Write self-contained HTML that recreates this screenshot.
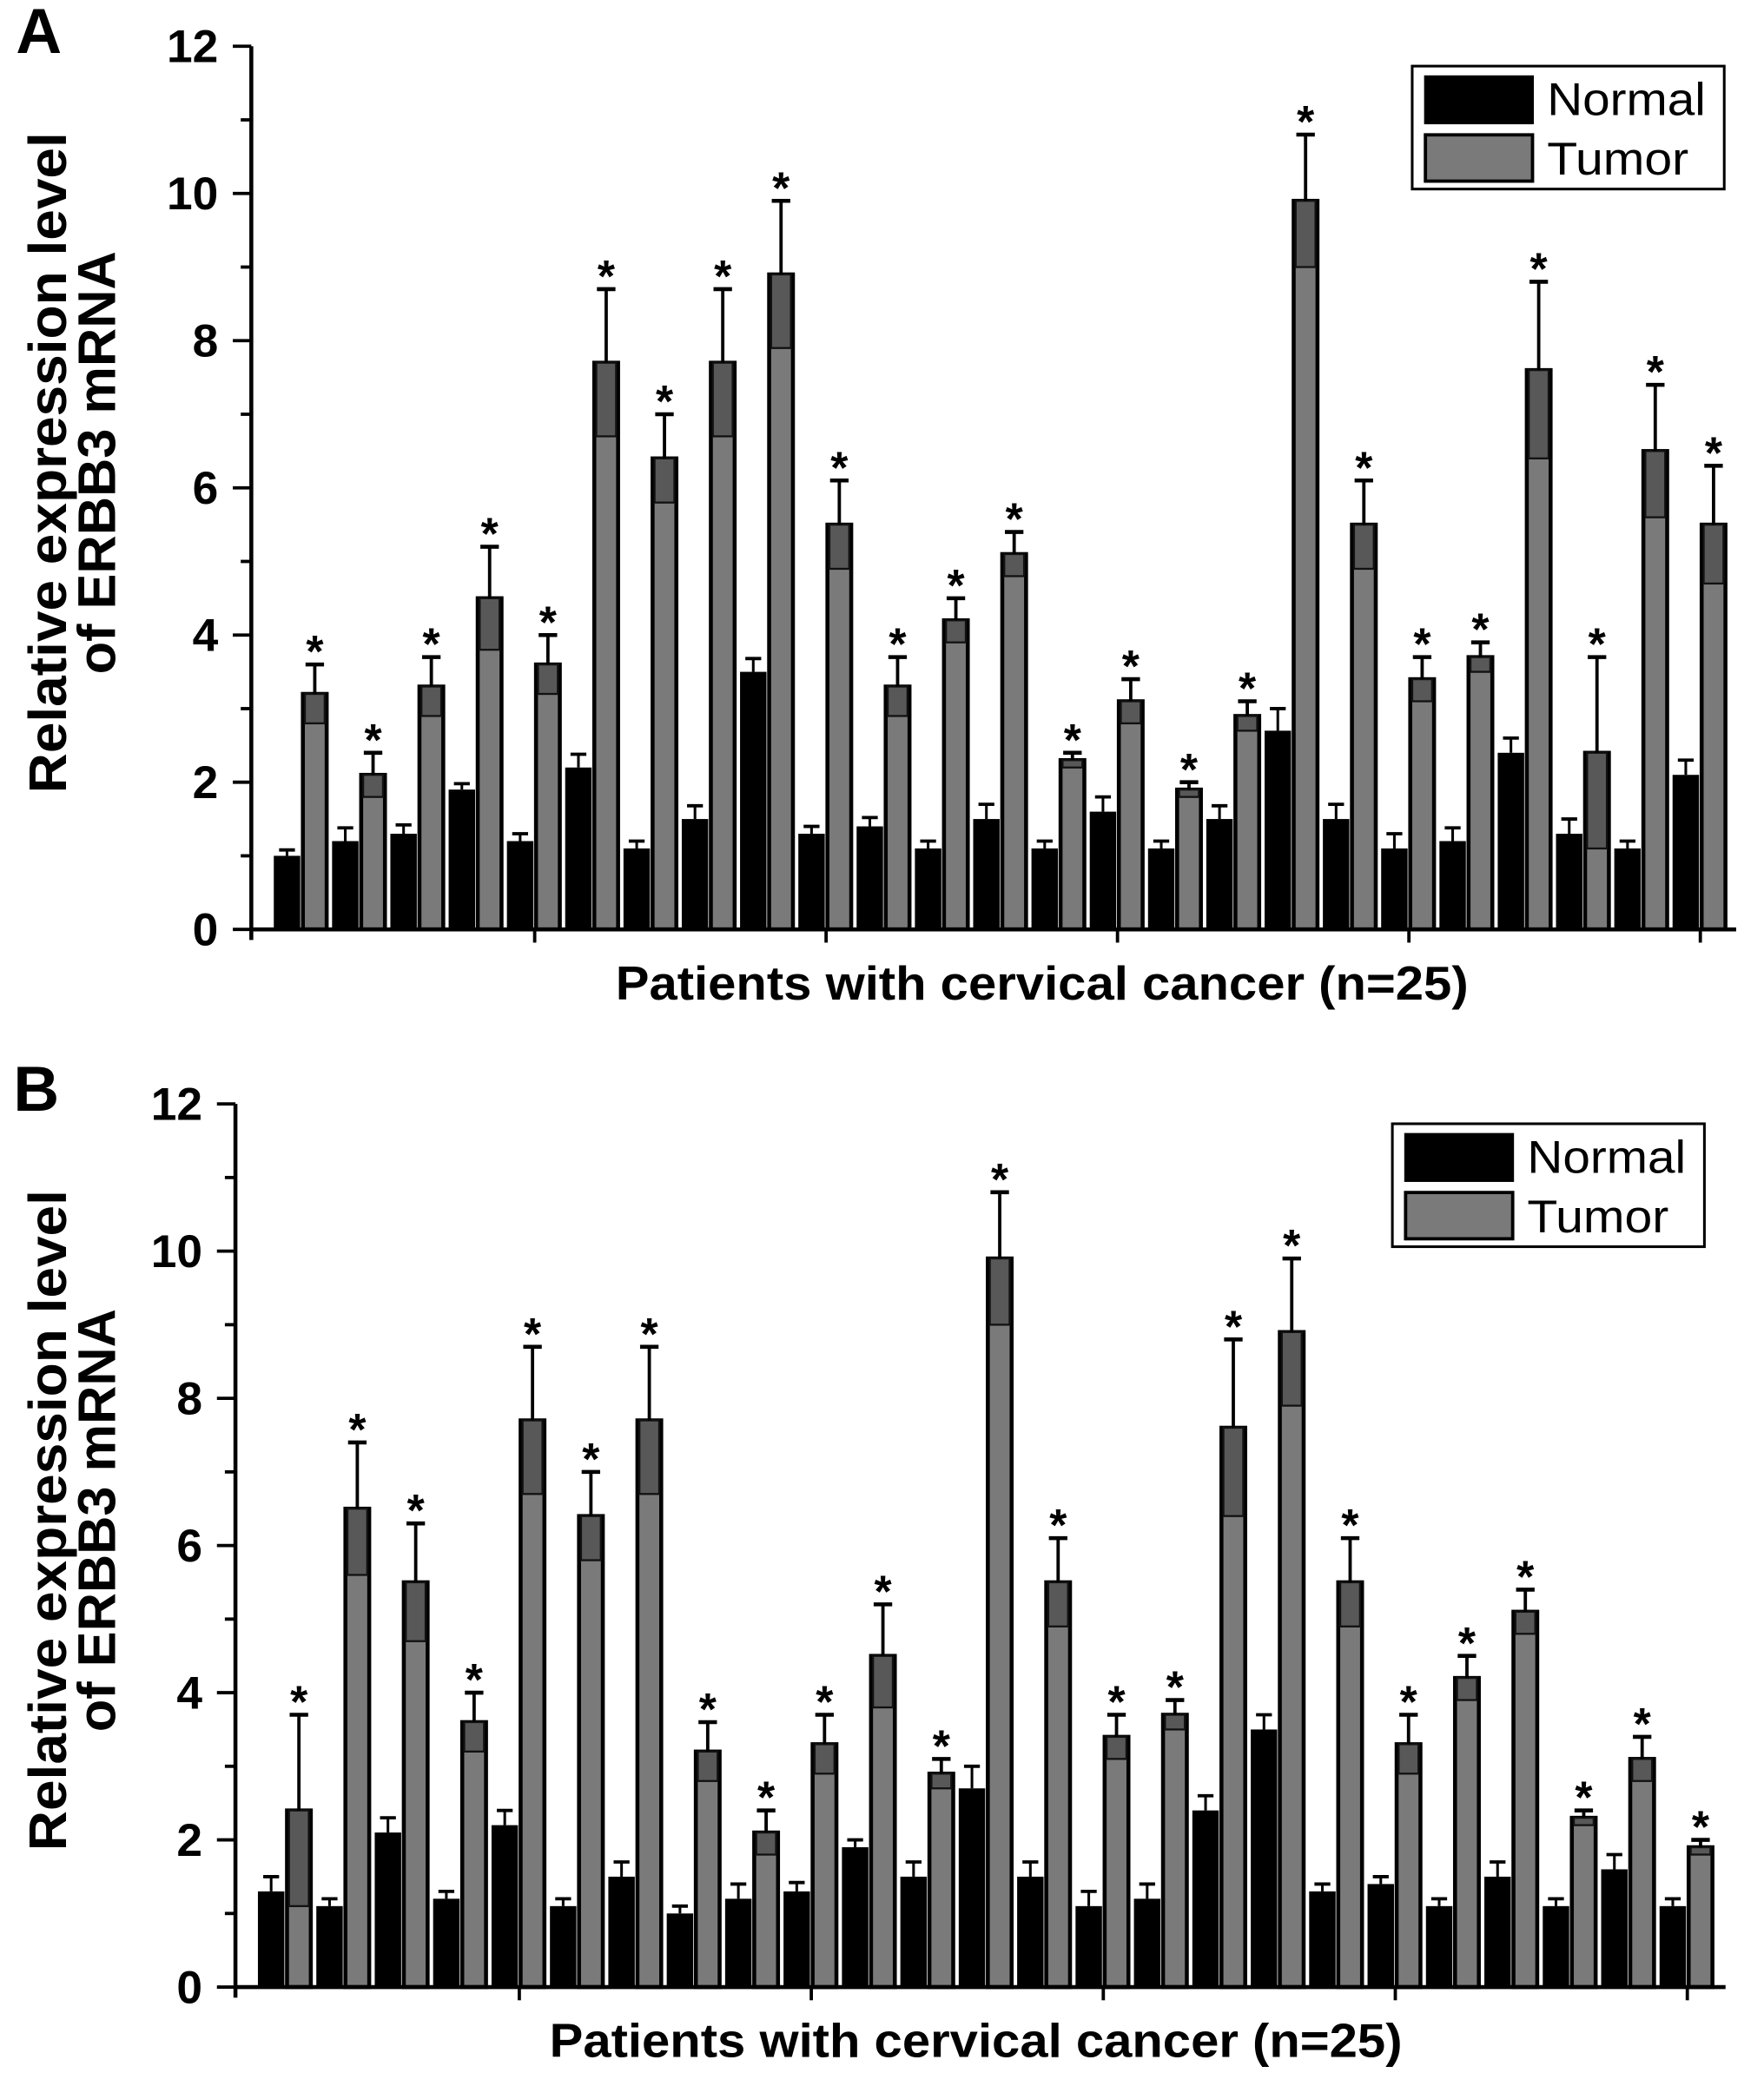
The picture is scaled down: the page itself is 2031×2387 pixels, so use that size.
<!DOCTYPE html>
<html><head><meta charset="utf-8"><style>
html,body{margin:0;padding:0;background:#fff;}
svg{display:block;}
text{font-family:"Liberation Sans",Arial,sans-serif;}
</style></head><body>
<svg id="fig" width="2031" height="2387" viewBox="0 0 1334 1568" xmlns="http://www.w3.org/2000/svg"></svg>
<script>
const normalA=[1.0,1.2,1.3,1.9,1.2,2.2,1.1,1.5,3.5,1.3,1.4,1.1,1.5,1.1,1.6,1.1,1.5,2.7,1.5,1.1,1.2,2.4,1.3,1.1,2.1];
const normalErrA=[0.08,0.18,0.12,0.08,0.1,0.18,0.1,0.18,0.18,0.1,0.12,0.1,0.2,0.1,0.2,0.1,0.18,0.3,0.2,0.2,0.18,0.2,0.2,0.1,0.2];
const tumorA=[3.2,2.1,3.3,4.5,3.6,7.7,6.4,7.7,8.9,5.5,3.3,4.2,5.1,2.3,3.1,1.9,2.9,9.9,5.5,3.4,3.7,7.6,2.4,6.5,5.5];
const tumorErrA=[0.4,0.3,0.4,0.7,0.4,1.0,0.6,1.0,1.0,0.6,0.4,0.3,0.3,0.1,0.3,0.1,0.2,0.9,0.6,0.3,0.2,1.2,1.3,0.9,0.8];
const normalB=[1.3,1.1,2.1,1.2,2.2,1.1,1.5,1.0,1.2,1.3,1.9,1.5,2.7,1.5,1.1,1.2,2.4,3.5,1.3,1.4,1.1,1.5,1.1,1.6,1.1];
const normalErrB=[0.2,0.1,0.2,0.1,0.2,0.1,0.2,0.1,0.2,0.12,0.1,0.2,0.3,0.2,0.2,0.2,0.2,0.2,0.1,0.1,0.1,0.2,0.1,0.2,0.1];
const tumorB=[2.4,6.5,5.5,3.6,7.7,6.4,7.7,3.2,2.1,3.3,4.5,2.9,9.9,5.5,3.4,3.7,7.6,8.9,5.5,3.3,4.2,5.1,2.3,3.1,1.9];
const tumorErrB=[1.3,0.9,0.8,0.4,1.0,0.6,1.0,0.4,0.3,0.4,0.7,0.2,0.9,0.6,0.3,0.2,1.2,1.0,0.6,0.4,0.3,0.3,0.1,0.3,0.1];
const yTicks=[0,2,4,6,8,10,12];

const svg=document.getElementById('fig');
const NS='http://www.w3.org/2000/svg';
function mk(tag,attrs,parent){const e=document.createElementNS(NS,tag);for(const k in attrs)e.setAttribute(k,attrs[k]);(parent||svg).appendChild(e);return e;}

function panel(p){
  const g=mk('g',{});
  
  
  const y=v=>p.y0-(v/12)*(p.y0-p.y12);
  const nx=i=>p.x1+i*p.pitch;
  const L=mk('text',{x:p.lx,y:p.ly,'font-size':48,'font-weight':'bold'},g);L.textContent=p.id;
  
  
  for(let i=0;i<p.n.length;i++){
    const x=nx(i);
    const nb=mk('rect',{x:x,y:y(p.n[i]),width:20,height:p.y0-y(p.n[i]),fill:'#000'},g);
    
    
    const ne=y(p.n[i]+p.ne[i]);
    mk('line',{x1:x+10,x2:x+10,y1:ne,y2:y(p.n[i]),stroke:'#000','stroke-width':2},g);
    mk('line',{x1:x+4,x2:x+16,y1:ne,y2:ne,stroke:'#000','stroke-width':2.5},g);
    const tx=x+22, tw=18;
    const tb=mk('rect',{x:tx,y:y(p.t[i]),width:tw,height:p.y0-y(p.t[i]),fill:'#7a7a7a',stroke:'#000','stroke-width':3},g);
    
    
    mk('rect',{x:tx+1.5,y:y(p.t[i]),width:tw-3,height:y(p.t[i]-p.te[i])-y(p.t[i]),fill:'#585858',stroke:'#111','stroke-width':1.5},g);
    const te=y(p.t[i]+p.te[i]);
    mk('line',{x1:tx+tw/2,x2:tx+tw/2,y1:te,y2:y(p.t[i]),stroke:'#000','stroke-width':2.5},g);
    mk('line',{x1:tx+2,x2:tx+tw-2,y1:te,y2:te,stroke:'#000','stroke-width':3},g);
    const s=mk('text',{x:tx+tw/2,y:te+2,'font-size':34,'font-weight':'bold','text-anchor':'middle'},g);s.textContent='*';
    
    
  }
  mk('line',{x1:p.ax,x2:p.ax,y1:p.y12,y2:p.y0+8,stroke:'#000','stroke-width':3},g);
  mk('line',{x1:p.ax,x2:p.xend,y1:p.y0,y2:p.y0,stroke:'#000','stroke-width':3},g);
  for(let v=0;v<=12;v++){
    mk('line',{x1:p.ax-(v%2===0?14:8),x2:p.ax,y1:y(v),y2:y(v),stroke:'#000','stroke-width':2.5},g);
  }
  yTicks.forEach(v=>{
    const t=mk('text',{x:p.ax-25,y:y(v)+12,'font-size':35,'font-weight':'bold','text-anchor':'end'},g);t.textContent=v;
    
    
  });
  for(let k=4;k<p.n.length;k+=5){
    const xx=nx(k)+21;
    mk('line',{x1:xx,x2:xx,y1:p.y0,y2:p.y0+10,stroke:'#000','stroke-width':2.5},g);
  }
  const yt=mk('text',{transform:`translate(${p.ytx},${p.ytc}) rotate(-90)`,'font-size':40,'font-weight':'bold','text-anchor':'middle'},g);
  
  
  const t1=mk('tspan',{x:0,y:0,textLength:500,lengthAdjust:'spacingAndGlyphs'},yt);t1.textContent='Relative expression level';
  const t2=mk('tspan',{x:0,y:37,textLength:320,lengthAdjust:'spacingAndGlyphs'},yt);t2.textContent='of ERBB3 mRNA';
  const xt=mk('text',{x:p.xtx,y:p.xty,'font-size':36,'font-weight':'bold','text-anchor':'middle',textLength:645,lengthAdjust:'spacingAndGlyphs'},g);
  xt.textContent='Patients with cervical cancer (n=25)';
  
  
  const lg=mk('g',{},g);
  
  
  mk('rect',{x:p.lgx,y:p.lgy,width:236,height:93,fill:'#fff',stroke:'#000','stroke-width':2},lg);
  mk('rect',{x:p.lgx+9,y:p.lgy+7,width:83,height:37,fill:'#000'},lg);
  mk('rect',{x:p.lgx+10,y:p.lgy+52,width:81,height:35,fill:'#7a7a7a',stroke:'#000','stroke-width':2.5},lg);
  const ln=mk('text',{x:p.lgx+102,y:p.lgy+37,'font-size':35,textLength:120,lengthAdjust:'spacingAndGlyphs'},lg);ln.textContent='Normal';
  
  
  const lt=mk('text',{x:p.lgx+102,y:p.lgy+82,'font-size':35,textLength:107,lengthAdjust:'spacingAndGlyphs'},lg);lt.textContent='Tumor';
  
  
}
panel({id:'A',n:normalA,ne:normalErrA,t:tumorA,te:tumorErrA,ax:190,y0:703,y12:35,x1:207,pitch:44.08,xend:1313,
  lx:12,ly:40,ytx:50,ytc:350,xtx:788,xty:756,lgx:1068,lgy:50});
panel({id:'B',n:normalB,ne:normalErrB,t:tumorB,te:tumorErrB,ax:178,y0:1503,y12:835,x1:195,pitch:44.17,xend:1305,
  lx:10,ly:840,ytx:50,ytc:1150,xtx:738,xty:1556,lgx:1053,lgy:850});
</script>
</body></html>
